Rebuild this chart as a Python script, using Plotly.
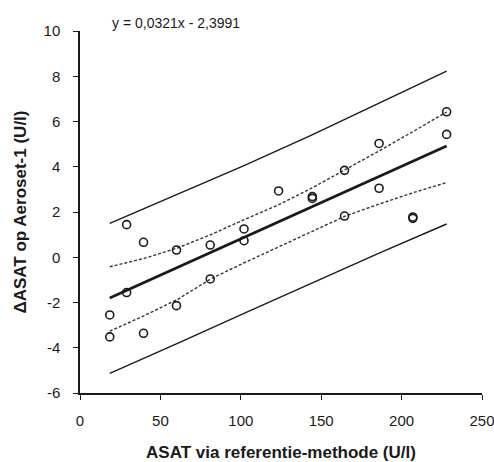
import plotly.graph_objects as go

# Data points (ASAT reference method vs delta ASAT on Aeroset-1)
pts_x = [18.5, 18.5, 29, 29, 39.5, 39.5, 60, 60, 81, 81, 102, 102, 123.5,
         144.5, 144.5, 164.5, 164.5, 186, 186, 207, 207, 228, 228]
pts_y = [-2.55, -3.52, 1.44, -1.56, 0.66, -3.36, 0.32, -2.14, 0.54, -0.96,
         1.25, 0.73, 2.93, 2.60, 2.68, 3.84, 1.82, 5.03, 3.05, 1.72, 1.78,
         6.43, 5.43]

# Regression line (read endpoints)
reg_x = [18.5, 228]
reg_y = [-1.80, 4.92]

# Confidence band (dashed)
ci_x = [18.5, 40, 61, 82, 102, 123, 144, 165, 186, 207, 228]
ci_upper = [-0.42, -0.05, 0.42, 1.02, 1.66, 2.30, 3.05, 3.87, 4.70, 5.55, 6.42]
ci_lower = [-3.27, -2.58, -1.85, -0.93, -0.25, 0.45, 1.15, 1.82, 2.35, 2.85, 3.30]

# Prediction band (thin solid)
pi_x = [18.5, 61, 102, 144, 186, 228]
pi_upper = [1.50, 2.78, 4.05, 5.40, 6.80, 8.23]
pi_lower = [-5.13, -3.80, -2.48, -1.15, 0.18, 1.47]

x_ticks = [0, 50, 100, 150, 200, 250]
x_tick_text = ["0", "50", "100", "150", "200", "250"]
y_ticks = [-6, -4, -2, 0, 2, 4, 6, 8, 10]
y_tick_text = ["-6", "-4", "-2", "0", "2", "4", "6", "8", "10"]

equation = "y = 0,0321x - 2,3991"
x_title = "ASAT via referentie-methode (U/l)"
y_title = "ΔASAT op Aeroset-1 (U/l)"

FONT = "Arial, Liberation Sans, sans-serif"
INK = "#1a1a1a"

fig = go.Figure()
fig.add_trace(go.Scatter(x=pi_x, y=pi_upper, mode="lines",
                         line=dict(color=INK, width=1.4), hoverinfo="skip"))
fig.add_trace(go.Scatter(x=pi_x, y=pi_lower, mode="lines",
                         line=dict(color=INK, width=1.4), hoverinfo="skip"))
fig.add_trace(go.Scatter(x=ci_x, y=ci_upper, mode="lines",
                         line=dict(color="#333", width=1.4, dash="3px,2px"), hoverinfo="skip"))
fig.add_trace(go.Scatter(x=ci_x, y=ci_lower, mode="lines",
                         line=dict(color="#333", width=1.4, dash="3px,2px"), hoverinfo="skip"))
fig.add_trace(go.Scatter(x=reg_x, y=reg_y, mode="lines",
                         line=dict(color=INK, width=2.8), hoverinfo="skip"))
fig.add_trace(go.Scatter(x=pts_x, y=pts_y, mode="markers",
                         marker=dict(symbol="circle-open", size=8, color=INK,
                                     line=dict(color=INK, width=1.6))))

fig.add_annotation(text=equation, xref="x", yref="paper", x=18.5, y=1.022,
                   xanchor="left", yanchor="middle", showarrow=False,
                   font=dict(family=FONT, size=14, color=INK))

fig.update_layout(
    width=494, height=462,
    margin=dict(l=80, r=12, t=31, b=69),
    paper_bgcolor="white", plot_bgcolor="white",
    showlegend=False,
    font=dict(family=FONT, color=INK),
)
fig.update_xaxes(range=[0, 250], tickvals=x_ticks, ticktext=x_tick_text,
                 automargin=False, ticklabeloverflow="allow",
                 showgrid=False, zeroline=False, showline=True,
                 linecolor=INK, linewidth=1.5, ticks="outside", ticklen=5,
                 tickwidth=1.3, tickcolor=INK, ticklabelstandoff=8,
                 tickfont=dict(family=FONT, size=15, color=INK),
                 title=dict(text=x_title, font=dict(family=FONT, size=17, color=INK,
                                                     weight="bold"), standoff=30))
fig.update_yaxes(range=[-6, 10], tickvals=y_ticks, ticktext=y_tick_text,
                 automargin=False, ticklabeloverflow="allow",
                 showgrid=False, zeroline=False, showline=True,
                 linecolor=INK, linewidth=1.5, ticks="outside", ticklen=5,
                 tickwidth=1.3, tickcolor=INK, ticklabelstandoff=10,
                 tickfont=dict(family=FONT, size=15, color=INK),
                 title=dict(text=y_title, font=dict(family=FONT, size=17, color=INK,
                                                     weight="bold"), standoff=13))

fig.write_html("out.html")
